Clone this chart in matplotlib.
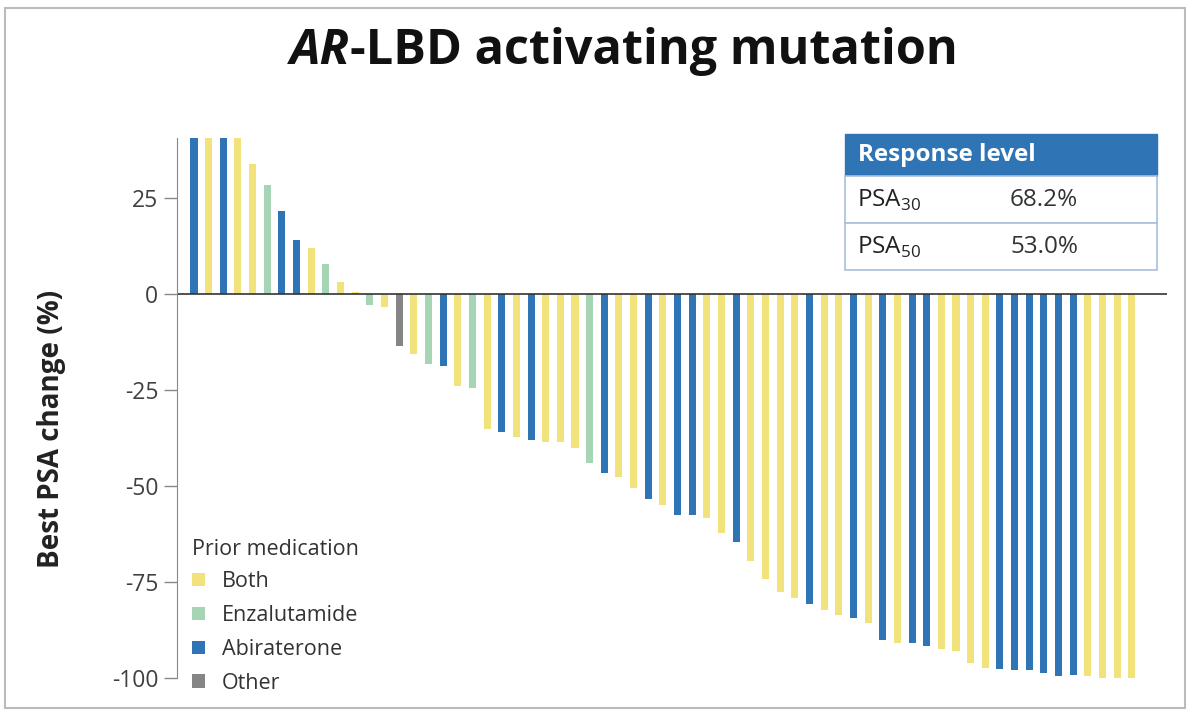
import matplotlib
matplotlib.use("Agg")
import matplotlib.pyplot as plt
from matplotlib.patches import Rectangle, Patch
import numpy as np

plt.rcParams['font.family'] = ['Open Sans', 'DejaVu Sans']
plt.rcParams['mathtext.fontset'] = 'custom'
plt.rcParams['mathtext.rm'] = 'Open Sans'
plt.rcParams['axes.unicode_minus'] = False

# best PSA change per patient (%), capped at ~40 on the chart
psa_change = [40.7, 40.7, 40.7, 40.7, 34, 28.5, 21.7, 14.1, 12, 7.8, 3.1, 0.6,
              -2.9, -3.4, -13.6, -15.5, -18.1, -18.8, -24, -24.5, -35, -35.8,
              -37.3, -37.9, -38.4, -38.4, -40.2, -43.9, -46.5, -47.5, -50.6,
              -53.3, -54.8, -57.4, -57.4, -58.4, -62.1, -64.5, -69.5, -74.1,
              -77.5, -79.1, -80.7, -82.3, -83.5, -84.4, -85.6, -90.1, -90.8,
              -90.9, -91.6, -92.4, -92.9, -96, -97.4, -97.7, -98, -98, -98.6,
              -99.5, -99.3, -99.5, -100, -100, -100]
prior_med = ['Abi', 'Both', 'Abi', 'Both', 'Both', 'Enz', 'Abi', 'Abi', 'Both', 'Enz', 'Both', 'Both',
             'Enz', 'Both', 'Other', 'Both', 'Enz', 'Abi', 'Both', 'Enz', 'Both', 'Abi',
             'Both', 'Abi', 'Both', 'Both', 'Both', 'Enz', 'Abi', 'Both', 'Both',
             'Abi', 'Both', 'Abi', 'Abi', 'Both', 'Both', 'Abi', 'Both', 'Both',
             'Both', 'Both', 'Abi', 'Both', 'Both', 'Abi', 'Both', 'Abi', 'Both',
             'Abi', 'Abi', 'Both', 'Both', 'Both', 'Both', 'Abi', 'Abi', 'Abi', 'Abi',
             'Abi', 'Abi', 'Both', 'Both', 'Both', 'Both']

legend_keys = ['Both', 'Enz', 'Abi', 'Other']
legend_labels = ['Both', 'Enzalutamide', 'Abiraterone', 'Other']
colors = {'Both': '#F2E27C', 'Enz': '#A6D5B5', 'Abi': '#2F74B5', 'Other': '#858585'}

table_rows = [('PSA$_{30}$', '68.2%'), ('PSA$_{50}$', '53.0%')]

W, H = 1200, 721
fig = plt.figure(figsize=(W / 100, H / 100), dpi=100)


def fx(x):
    return x / W


def fy(y):
    return 1 - y / H


ax = fig.add_axes([fx(177), fy(678), fx(1167) - fx(177), fy(138) - fy(678)])
x = np.arange(len(psa_change))
ax.bar(x, psa_change, width=0.48, color=[colors[m] for m in prior_med])
ax.axhline(0, color='#333333', lw=1.2)
ax.set_xlim(-1.16, len(psa_change) + 1.4)
ax.set_ylim(-100, 40.7)

ax.set_yticks([25, 0, -25, -50, -75, -100])
ax.set_yticklabels(['25', '0', '-25', '-50', '-75', '-100'])
ax.tick_params(axis='y', length=9.5, width=1, color='#888888', pad=4,
               labelsize=16.5, labelcolor='#404040')
ax.set_xticks([])
for s in ['top', 'right', 'bottom']:
    ax.spines[s].set_visible(False)
ax.spines['left'].set_color('#888888')
ax.spines['left'].set_bounds(-100, 40.7)

fig.text(fx(52), fy(429), 'Best PSA change (%)', rotation=90, ha='center', va='center',
         fontsize=20, fontweight='bold', color='#222222')

# title, AR in italics
fig.text(fx(350), fy(52), 'AR', ha='right', va='center', fontsize=35,
         fontweight='bold', style='italic', color='#111111')
fig.text(fx(350), fy(52), '-LBD activating mutation', ha='left', va='center',
         fontsize=35, fontweight='bold', color='#111111')

# legend
handles = [Patch(facecolor=colors[k], edgecolor='none') for k in legend_keys]
leg = fig.legend(handles, legend_labels, title='Prior medication', loc='upper left',
                 bbox_to_anchor=(fx(192), fy(539)), frameon=False, fontsize=15.5,
                 title_fontsize=15.5, handlelength=0.6, handleheight=0.6,
                 handletextpad=0.8, labelspacing=0.6, borderaxespad=0, borderpad=0)
leg._legend_box.align = 'left'
leg._legend_box.sep = 8
for t in leg.get_texts():
    t.set_color('#333333')
leg.get_title().set_color('#333333')

# response table
tx0, tx1 = 845, 1157
hy0, hy1 = 134, 176
row_h = 47
border = '#A9BFD8'
fig.patches.append(Rectangle((fx(tx0), fy(hy1)), fx(tx1) - fx(tx0), fy(hy0) - fy(hy1),
                             transform=fig.transFigure, facecolor='#2F74B5',
                             edgecolor='#2F74B5', lw=1))
fig.text(fx(858), fy(155), 'Response level', ha='left', va='center', fontsize=17.5,
         fontweight='bold', color='white')
for i, (name, val) in enumerate(table_rows):
    y0 = hy1 + i * row_h
    fig.patches.append(Rectangle((fx(tx0), fy(y0 + row_h)), fx(tx1) - fx(tx0),
                                 fy(y0) - fy(y0 + row_h), transform=fig.transFigure,
                                 facecolor='white', edgecolor=border, lw=1.2))
    fig.text(fx(857), fy(y0 + 24), name, ha='left', va='center', fontsize=17.5,
             color='#222222')
    fig.text(fx(1010), fy(y0 + 24), val, ha='left', va='center', fontsize=17.5,
             color='#333333')

# slide frame
fig.patches.append(Rectangle((fx(5), fy(708)), fx(1185) - fx(5), fy(8) - fy(708),
                             transform=fig.transFigure, facecolor='none',
                             edgecolor='#BBBBBB', lw=1.5))

fig.savefig('out.png', dpi=100)
